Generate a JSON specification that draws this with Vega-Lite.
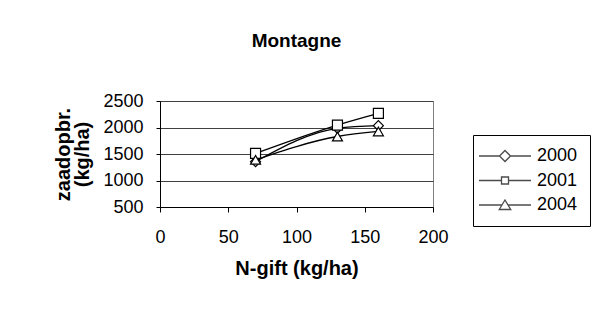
{
  "$schema": "https://vega.github.io/schema/vega-lite/v6.json",
  "width": 273,
  "height": 106,
  "autosize": {"type": "none"},
  "padding": {"left": 160, "top": 101, "right": 159, "bottom": 107},
  "background": "white",
  "title": {"text": "Montagne", "font": "Liberation Sans", "fontSize": 19, "fontWeight": "bold", "color": "black", "anchor": "middle", "offset": 41},
  "config": {
    "view": {"stroke": "#808080", "strokeWidth": 1},
    "axis": {"labelFont": "Liberation Sans", "labelFontSize": 18, "labelColor": "black", "titleFont": "Liberation Sans", "titleFontSize": 20, "titleFontWeight": "bold", "titleColor": "black", "domainColor": "black", "tickColor": "black"}
  },
  "data": {"values": [
    {"year": "2000", "n": 70, "y": 1355},
    {"year": "2000", "n": 130, "y": 1985},
    {"year": "2000", "n": 160, "y": 2035},
    {"year": "2001", "n": 70, "y": 1510},
    {"year": "2001", "n": 130, "y": 2045},
    {"year": "2001", "n": 160, "y": 2265},
    {"year": "2004", "n": 70, "y": 1390},
    {"year": "2004", "n": 130, "y": 1830},
    {"year": "2004", "n": 160, "y": 1925}
  ]},
  "encoding": {
    "x": {"field": "n", "type": "quantitative", "scale": {"domain": [0, 200], "nice": false, "zero": false},
      "axis": {"values": [0, 50, 100, 150, 200], "format": "d", "grid": false, "tickSize": 5, "labelPadding": 16, "title": "N-gift (kg/ha)", "titlePadding": 12, "labelFlush": false}},
    "y": {"field": "y", "type": "quantitative", "scale": {"domain": [500, 2500], "nice": false, "zero": false},
      "axis": {"values": [500, 1000, 1500, 2000, 2500], "format": "d", "grid": true, "gridColor": "#404040", "tickSize": 4, "labelPadding": 13, "title": ["zaadopbr.", "(kg/ha)"], "titlePadding": 10, "titleLineHeight": 19}}
  },
  "resolve": {"scale": {"shape": "independent"}},
  "layer": [
    {"mark": {"type": "line", "color": "black", "strokeWidth": 1.3, "interpolate": "monotone"},
     "encoding": {"detail": {"field": "year"}}},
    {"mark": {"type": "point", "filled": true, "fill": "white", "stroke": "black", "strokeWidth": 1.2, "size": 100, "opacity": 1},
     "encoding": {"shape": {"field": "year", "type": "nominal", "scale": {"range": ["diamond", "square", "triangle-up"]}, "legend": null}}},
    {"transform": [{"filter": "datum.n < 0"}],
     "mark": {"type": "point", "filled": false, "color": "black", "strokeWidth": 1, "size": 100},
     "encoding": {"shape": {"field": "year", "type": "nominal",
       "scale": {"domain": ["2000", "2001", "2004"], "range": [
         "M-5.2,0H-1.1M1.1,0H5.2M0,-1.1L1.1,0L0,1.1L-1.1,0Z",
         "M-5.2,0H-0.7M0.7,0H5.2M-0.7,-0.7H0.7V0.7H-0.7Z",
         "M-5.2,0H-0.6M0.6,0H5.2M0,-1L1.15,0.9H-1.15Z"
       ]},
       "legend": {"title": null, "orient": "none", "legendX": 313, "legendY": 34, "padding": 12, "strokeColor": "black", "fillColor": "white",
         "symbolSize": 100, "symbolFillColor": "white", "symbolStrokeColor": "black", "symbolStrokeWidth": 1.3,
         "symbolOffset": 11, "labelOffset": 23, "rowPadding": 6.5, "labelFont": "Liberation Sans", "labelFontSize": 18, "labelColor": "black",
         "encode": {"symbols": {"update": {"stroke": {"value": "black"}, "fill": {"value": "white"}, "strokeWidth": {"value": 1.3}, "opacity": {"value": 1}}}}}}}}
  ]
}
